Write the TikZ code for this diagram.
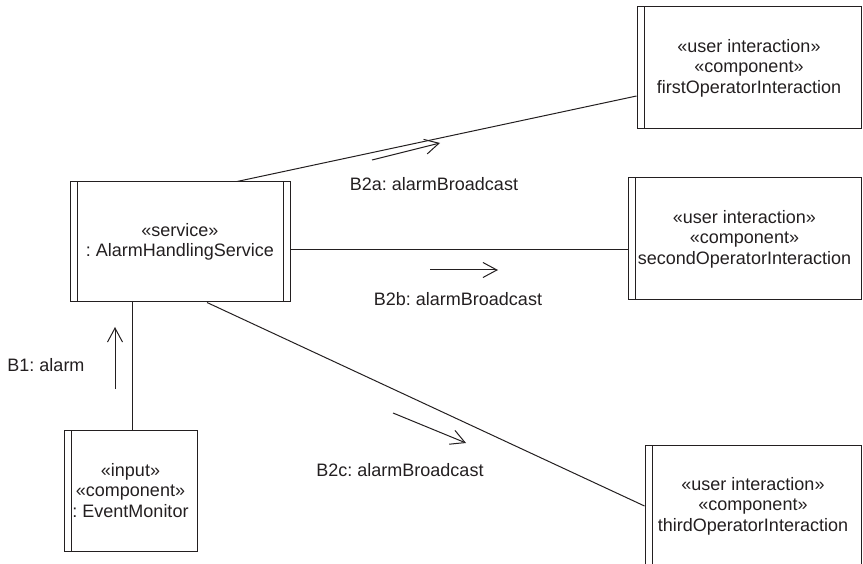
\documentclass[tikz,border=0pt]{standalone}
\usepackage{fontspec}
\setmainfont{Liberation Sans}
\usetikzlibrary{arrows.meta,calc}
\definecolor{ink}{HTML}{231F20}
\frenchspacing
\begin{document}
\begin{tikzpicture}[x=1pt,y=-1pt,
  every node/.style={font=\fontsize{18}{20.5}\selectfont\frenchspacing, text=ink},
  obj/.style={draw=ink, line width=1pt, rectangle, align=center, inner sep=0pt},
  leftbar/.style={path picture={\draw[ink, line width=1pt] ([xshift=7pt]path picture bounding box.north west) -- ([xshift=7pt]path picture bounding box.south west);}},
  bothbars/.style={path picture={\draw[ink, line width=1pt] ([xshift=7pt]path picture bounding box.north west) -- ([xshift=7pt]path picture bounding box.south west);
     \draw[ink, line width=1pt] ([xshift=-7pt]path picture bounding box.north east) -- ([xshift=-7pt]path picture bounding box.south east);}},
  conn/.style={ink, line width=1pt},
  msg/.style={ink, line width=1pt, -{Straight Barb[length=14pt,width=15pt,line width=1pt]}},
  lbl/.style={inner sep=0pt}
]
\useasboundingbox (0,0) rectangle (863,564);
\clip (0,0) rectangle (863,564);

\node[obj, bothbars, minimum width=220pt, minimum height=120pt] (svc) at (180,242) {«service»\\: AlarmHandlingService};
\node[obj, leftbar, minimum width=133pt, minimum height=121pt] (ev) at (130.5,490.5) {«input»\\«component»\\: EventMonitor};
\node[obj, leftbar, minimum width=224pt, minimum height=122pt] (op1) at (749,68) {«user interaction»\\«component»\\firstOperatorInteraction};
\node[obj, leftbar, minimum width=233pt, minimum height=122pt] (op2) at (744.5,239) {«user interaction»\\«component»\\secondOperatorInteraction};
\node[obj, leftbar, minimum width=216pt, minimum height=122pt] (op3) at (753,506) {«user interaction»\\«component»\\thirdOperatorInteraction};

\coordinate (svcb) at ([xshift=-48pt]svc.south);
\draw[conn] (svcb) -- (svcb |- ev.north);
\draw[conn] ([xshift=57pt]svc.north) -- ([yshift=-28pt]op1.west);
\draw[conn] ([yshift=-8pt]svc.east) -- ([yshift=-11pt]op2.west);
\draw[conn] ([xshift=27pt]svc.south) -- (op3.west);

% message arrows
\coordinate (m1s) at (115,389); \coordinate (m1e) at (115,327);
\coordinate (m2as) at (372,160); \coordinate (m2ae) at (440,143);
\coordinate (m2bs) at (430,270); \coordinate (m2be) at (498,270);
\coordinate (m2cs) at (393,413); \coordinate (m2ce) at (466,443);
\draw[msg] (m1s) -- (m1e);
\draw[msg] (m2as) -- (m2ae);
\draw[msg] (m2bs) -- (m2be);
\draw[msg] (m2cs) -- (m2ce);

\node[lbl] (l1) at (46,365) {B1: alarm};
\node[lbl] (l2a) at (434,184) {B2a: alarmBroadcast};
\node[lbl] (l2b) at (458,299) {B2b: alarmBroadcast};
\node[lbl] (l2c) at (400,470) {B2c: alarmBroadcast};
\end{tikzpicture}
\end{document}
